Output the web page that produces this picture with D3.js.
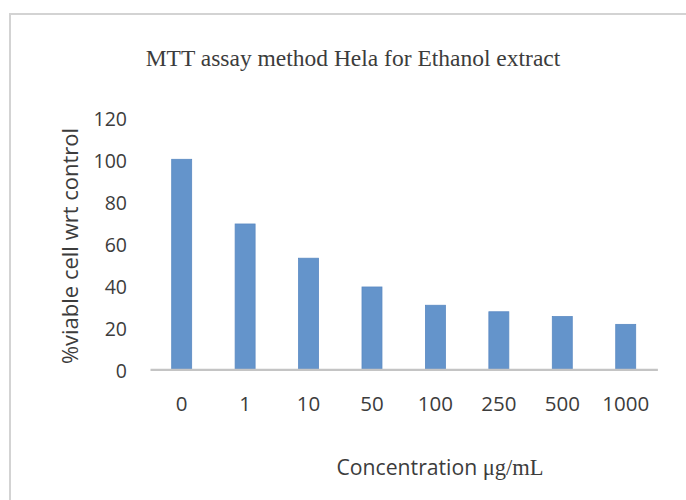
<!DOCTYPE html>
<html>
<head>
<meta charset="utf-8">
<script src="https://cdn.jsdelivr.net/npm/d3@7"></script>
<style>
  body { margin: 0; background: #fff; }
  svg text { fill: #3c3c3c; }
</style>
</head>
<body>
<div id="chart"></div>
<script>
// chart data
var concentrations = ['0', '1', '10', '50', '100', '250', '500', '1000'];
var viability = [100, 69.2, 52.9, 39.2, 30.5, 27.4, 25.1, 21.4];
var yTicks = [0, 20, 40, 60, 80, 100, 120];

var width = 686,
    height = 500;

var plotLeft = 150,
    plotRight = 657.4,
    plotTop = 117.3,
    plotBottom = 369.3;

var svg = d3.select('#chart').append('svg')
    .attr('width', width)
    .attr('height', height);

// outer frame (runs off the right and bottom edge)
svg.append('rect')
    .attr('x', 10)
    .attr('y', 14)
    .attr('width', 720)
    .attr('height', 520)
    .attr('fill', 'none')
    .attr('stroke', '#d3d3d3')
    .attr('stroke-width', 2);

var xScale = d3.scaleBand()
    .domain(concentrations)
    .range([plotLeft, plotRight])
    .paddingInner(0.685)
    .paddingOuter(0.342);

var yScale = d3.scaleLinear()
    .domain([0, 120])
    .range([plotBottom, plotTop]);

// title
svg.append('text')
    .attr('x', 353)
    .attr('y', 65.5)
    .attr('text-anchor', 'middle')
    .style('font-family', '"Liberation Serif", "Times New Roman", serif')
    .style('font-size', '23.5px')
    .text('MTT assay method Hela for Ethanol extract');

// y axis labels (no line, no ticks)
var yAxis = svg.append('g')
    .attr('transform', 'translate(127,0)')
    .call(d3.axisLeft(yScale).tickValues(yTicks).tickSize(0).tickPadding(0));
yAxis.select('.domain').remove();
yAxis.selectAll('text')
    .attr('dy', '0.42em')
    .style('font-family', '"Open Sans", sans-serif')
    .style('font-size', '19.5px')
    .style('fill', '#3c3c3c');

// bars
svg.append('g')
    .selectAll('rect')
    .data(viability)
    .enter()
    .append('rect')
    .attr('x', function(d, i) { return xScale(concentrations[i]); })
    .attr('y', function(d) { return yScale(d); })
    .attr('width', xScale.bandwidth())
    .attr('height', function(d) { return yScale(0) - yScale(d); })
    .attr('fill', '#6494cb')
    .attr('stroke', '#5a89c2')
    .attr('stroke-width', 0.8);

// x axis
var xAxis = svg.append('g')
    .attr('transform', 'translate(0,' + yScale(0) + ')')
    .call(d3.axisBottom(xScale).tickSize(0).tickPadding(0));
xAxis.select('.domain')
    .attr('stroke', '#c4c4c4')
    .attr('stroke-width', 2.2);
xAxis.selectAll('text')
    .attr('y', 35)
    .attr('dy', '0.35em')
    .style('font-family', '"Open Sans", sans-serif')
    .style('font-size', '20.5px')
    .style('fill', '#3c3c3c');

// axis titles
var xTitle = svg.append('text')
    .attr('x', 440)
    .attr('y', 475)
    .attr('text-anchor', 'middle')
    .style('font-size', '21.2px');
xTitle.append('tspan')
    .style('font-family', '"Open Sans", sans-serif')
    .text('Concentration ');
xTitle.append('tspan')
    .style('font-family', '"Liberation Serif", serif')
    .style('font-size', '22.5px')
    .text('μg/mL');

svg.append('text')
    .attr('transform', 'translate(78,246) rotate(-90)')
    .attr('text-anchor', 'middle')
    .style('font-family', '"Open Sans", sans-serif')
    .style('font-size', '22px')
    .text('%viable cell wrt control');
</script>
</body>
</html>
